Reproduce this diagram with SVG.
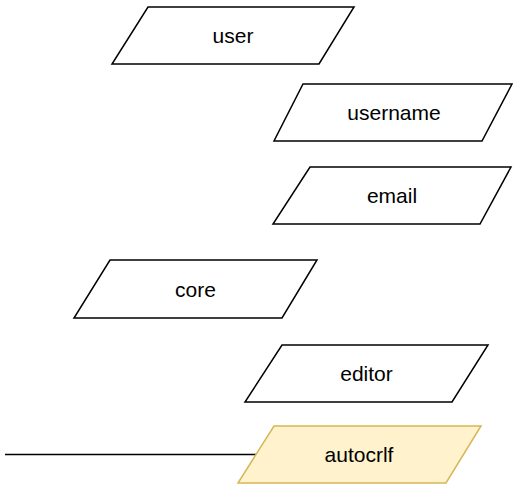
<svg xmlns="http://www.w3.org/2000/svg" width="516" height="487" viewBox="0 0 516 487">
<style>
.n{fill:#ffffff;stroke:#000000;stroke-width:1.5}
.y{fill:#fff2cc;stroke:#d6b656;stroke-width:1.5}
.t{font-family:"Liberation Sans",Arial,sans-serif;font-size:21px;fill:#000000;text-anchor:middle}
.c{stroke:#000000;stroke-width:1.5;fill:none}
</style>
<rect width="516" height="487" fill="#ffffff"/>
<g id="connectors">
<line class="c" x1="5" y1="454.5" x2="256" y2="454.5"/>
</g>
<g id="user">
<polygon class="n" points="148,7 354,7 319,64 112,64"/>
<text class="t" x="233" y="43">user</text>
</g>
<g id="username">
<polygon class="n" points="303,84 512,84 482,141 274,141"/>
<text class="t" x="394" y="120">username</text>
</g>
<g id="email">
<polygon class="n" points="310,167 511,167 480,224 273,224"/>
<text class="t" x="392" y="203">email</text>
</g>
<g id="core">
<polygon class="n" points="110,260 317,260 282,318 74,318"/>
<text class="t" x="195.5" y="296.5">core</text>
</g>
<g id="editor">
<polygon class="n" points="282,345 488,345 452,402 245,402"/>
<text class="t" x="366.5" y="381">editor</text>
</g>
<g id="autocrlf">
<polygon class="y" points="274,426 481,426 446,483 238,483"/>
<text class="t" x="359" y="462">autocrlf</text>
</g>
</svg>
